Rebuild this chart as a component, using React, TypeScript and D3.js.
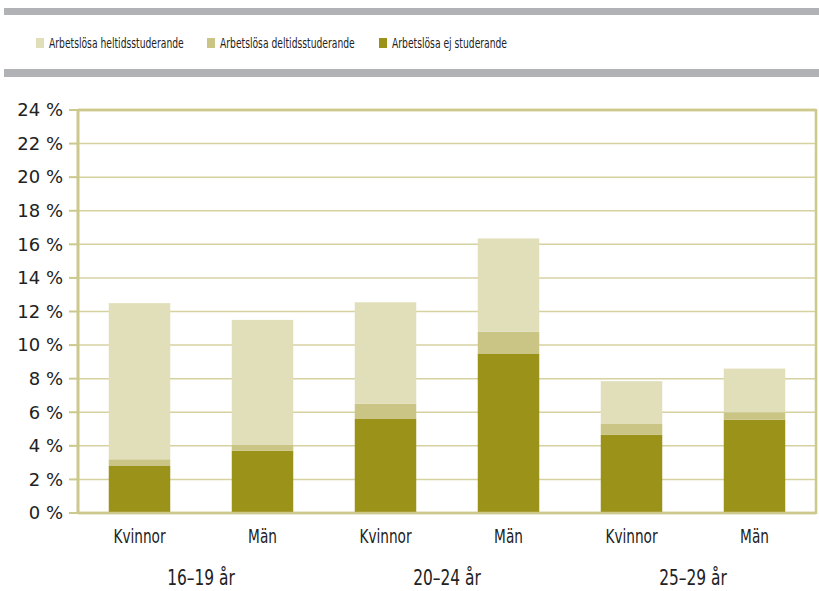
import React from "react";
import * as d3 from "d3";

const categories = ["Kvinnor", "Män", "Kvinnor", "Män", "Kvinnor", "Män"];
const groups = ["16–19 år", "20–24 år", "25–29 år"];
const ejStuderande = [2.8, 3.7, 5.6, 9.5, 4.65, 5.55];
const deltid = [0.4, 0.35, 0.9, 1.3, 0.65, 0.45];
const heltid = [9.3, 7.45, 6.05, 5.55, 2.55, 2.6];
const seriesNames = [
  "Arbetslösa heltidsstuderande",
  "Arbetslösa deltidsstuderande",
  "Arbetslösa ej studerande",
];
const yTicks = [0, 2, 4, 6, 8, 10, 12, 14, 16, 18, 20, 22, 24];

const colors: Record<string, string> = {
  ej: "#9a9219",
  deltid: "#cac585",
  heltid: "#e1dfba",
};
const legendColors = [colors.heltid, colors.deltid, colors.ej];
const legendX = [36, 207, 379];

const W = 819;
const H = 591;
const left = 78;
const right = 816;
const top = 110;
const bottom = 513;

// no narrow font installed, so squeeze the condensed one horizontally
const narrow = "'DejaVu Sans Condensed', 'DejaVu Sans', sans-serif";
const axisColor = "#cdc88c";
const gridColor = "#d6d2a0";

export default function App() {
  const rows = categories.map((c, i) => ({
    i,
    ej: ejStuderande[i],
    deltid: deltid[i],
    heltid: heltid[i],
  }));
  const stack = d3.stack<any>().keys(["ej", "deltid", "heltid"]);
  const layers = stack(rows);

  const x = d3
    .scaleBand<number>()
    .domain(categories.map((_, i) => i))
    .range([left, right])
    .paddingInner(0.5)
    .paddingOuter(0.25);
  const y = d3.scaleLinear().domain([0, 24]).range([bottom, top]);

  return (
    <div style={{ position: "absolute", left: 0, top: 0 }}>
      <svg width={W} height={H} style={{ display: "block" }}>
        <rect x={0} y={0} width={W} height={H} fill="#fff" />
        {/* gray header bands */}
        <rect x={4} y={8} width={W - 4} height={7} fill="#b1b2b6" />
        <rect x={4} y={69} width={W - 4} height={8} fill="#b1b2b6" />

        {/* legend */}
        {seriesNames.map((name, k) => (
          <g key={name}>
            <rect x={legendX[k]} y={38} width={8} height={10} fill={legendColors[k]} />
            <text
              transform={`translate(${legendX[k] + 13},48) scale(0.73,1)`}
              fontFamily={narrow}
              fontSize={14}
              fill="#222"
            >
              {name}
            </text>
          </g>
        ))}

        {/* grid */}
        {yTicks.map((t) => (
          <g key={t}>
            <line
              x1={left}
              x2={right}
              y1={y(t)}
              y2={y(t)}
              stroke={gridColor}
              strokeWidth={t === 0 || t === 24 ? 2.5 : 1.5}
            />
            <line x1={69} x2={left} y1={y(t)} y2={y(t)} stroke={axisColor} strokeWidth={2} />
            <text
              x={63}
              y={y(t)}
              dy="0.35em"
              textAnchor="end"
              fontFamily="'DejaVu Sans', sans-serif"
              fontSize={18}
              fill="#222"
            >
              {`${t} %`}
            </text>
          </g>
        ))}

        {/* bars */}
        {layers.map((layer) => (
          <g key={layer.key} fill={colors[layer.key]}>
            {layer.map((d, i) => (
              <rect
                key={i}
                x={x(i)}
                y={y(d[1])}
                width={x.bandwidth()}
                height={y(d[0]) - y(d[1])}
              />
            ))}
          </g>
        ))}

        {/* frame */}
        <line x1={left} x2={left} y1={top - 1} y2={bottom + 1} stroke={axisColor} strokeWidth={3} />
        <line x1={right} x2={right} y1={top - 1} y2={bottom + 1} stroke={axisColor} strokeWidth={2.5} />
        <line x1={left} x2={right} y1={bottom} y2={bottom} stroke={axisColor} strokeWidth={2.5} />
        <line x1={left} x2={right} y1={top} y2={top} stroke={axisColor} strokeWidth={2.5} />

        {/* category labels */}
        {categories.map((c, i) => (
          <text
            key={i}
            transform={`translate(${(x(i) as number) + x.bandwidth() / 2},543) scale(0.76,1)`}
            textAnchor="middle"
            fontFamily={narrow}
            fontSize={20}
            fill="#222"
          >
            {c}
          </text>
        ))}
        {groups.map((g, k) => (
          <text
            key={g}
            transform={`translate(${((x(k * 2) as number) + (x(k * 2 + 1) as number) + x.bandwidth()) / 2},585) scale(0.78,1)`}
            textAnchor="middle"
            fontFamily={narrow}
            fontSize={22}
            fill="#222"
          >
            {g}
          </text>
        ))}
      </svg>
    </div>
  );
}
